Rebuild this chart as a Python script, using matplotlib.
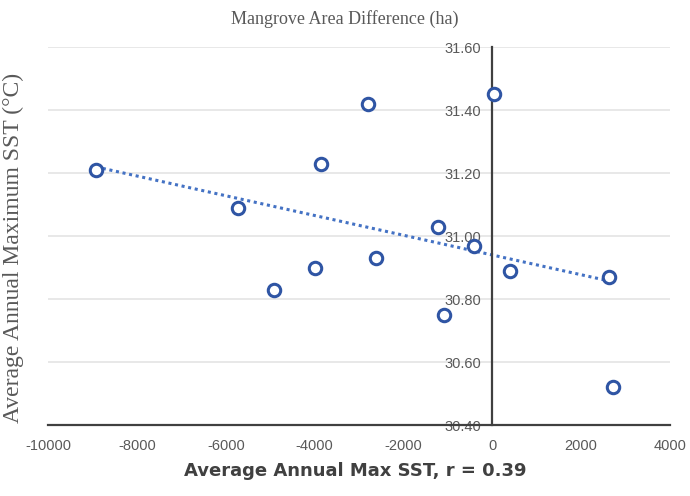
import numpy as np
import matplotlib
matplotlib.use("Agg")
import matplotlib.pyplot as plt

plt.rcParams["axes.unicode_minus"] = False

# mangrove area difference (ha) vs average annual max SST (degC)
area_diff = [-8920, -5720, -4910, -3990, -3850, -2790, -2610,
             -1220, -1080, -405, 45, 405, 2635, 2725]
max_sst = [31.21, 31.09, 30.83, 30.90, 31.23, 31.42, 30.93,
           31.03, 30.75, 30.97, 31.45, 30.89, 30.87, 30.52]

x_ticks = [-10000, -8000, -6000, -4000, -2000, 0, 2000, 4000]
y_ticks = [30.40, 30.60, 30.80, 31.00, 31.20, 31.40, 31.60]

grey = "#595959"

fig = plt.figure(figsize=(6.9, 4.96), dpi=100)
ax = fig.add_axes([0.07, 0.143, 0.901, 0.762])

# linear trendline over the data range
slope, icpt = np.polyfit(area_diff, max_sst, 1)
xs = np.array([min(area_diff), max(area_diff)])
ax.plot(xs, slope * xs + icpt, linestyle=(0, (1, 1.2)), color="#4472c4",
        linewidth=2.2, zorder=2)

ax.scatter(area_diff, max_sst, s=80, facecolors="white", edgecolors="#2f55a4",
           linewidths=2.2, zorder=3)

ax.set_xlim(-10000, 4000)
ax.set_ylim(30.40, 31.60)
ax.set_xticks(x_ticks)
ax.set_yticks(y_ticks)
ax.set_yticklabels([f"{v:.2f}" for v in y_ticks])
ax.grid(axis="y", color="#e4e4e4", linewidth=1.2, zorder=0)
ax.set_axisbelow(True)

# y axis sits at x = 0
ax.spines["left"].set_position(("data", 0))
ax.spines["left"].set_color("#404040")
ax.spines["left"].set_linewidth(1.6)
ax.spines["bottom"].set_color("#404040")
ax.spines["bottom"].set_linewidth(1.6)
ax.spines["top"].set_visible(False)
ax.spines["right"].set_visible(False)

ax.tick_params(axis="both", length=0, labelsize=10.5, labelcolor=grey)
ax.tick_params(axis="x", pad=10)
ax.tick_params(axis="y", pad=8)
for lbl in ax.get_xticklabels() + ax.get_yticklabels():
    lbl.set_family("Liberation Sans")

fig.text(0.5, 0.962, "Mangrove Area Difference (ha)", ha="center", va="center",
         family="Liberation Serif", fontsize=13, color=grey)
fig.text(0.02, 0.5, "Average Annual Maximum SST (°C)", ha="center", va="center",
         rotation=90, family="Liberation Serif", fontsize=17, color=grey)
fig.text(0.515, 0.05, "Average Annual Max SST, r = 0.39", ha="center",
         va="center", family="DejaVu Sans", fontweight="bold", fontsize=13,
         color="#404040")

fig.savefig("out.png", dpi=100)
